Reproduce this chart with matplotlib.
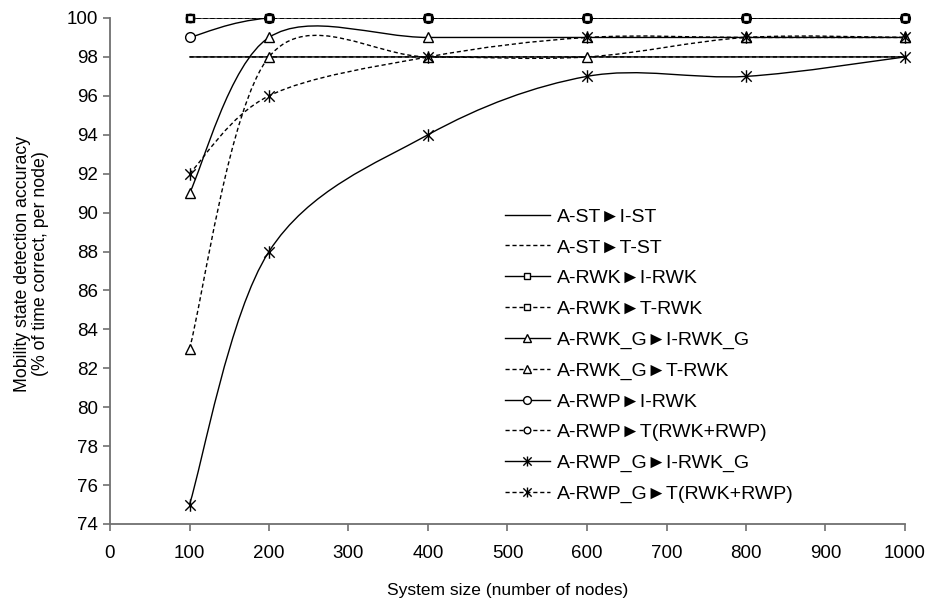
import matplotlib.pyplot as plt
import numpy as np
from matplotlib.path import Path
from matplotlib.patches import PathPatch
from matplotlib.lines import Line2D

plt.rcParams['font.family'] = ['Liberation Sans', 'DejaVu Sans']
plt.rcParams['font.size'] = 12

# data
sizes = [100, 200, 400, 600, 800, 1000]
labels = ["A-ST\u25BAI-ST", "A-ST\u25BAT-ST", "A-RWK\u25BAI-RWK", "A-RWK\u25BAT-RWK",
          "A-RWK_G\u25BAI-RWK_G", "A-RWK_G\u25BAT-RWK", "A-RWP\u25BAI-RWK",
          "A-RWP\u25BAT(RWK+RWP)", "A-RWP_G\u25BAI-RWK_G", "A-RWP_G\u25BAT(RWK+RWP)"]
st_i = [98, 98, 98, 98, 98, 98]
st_t = [98, 98, 98, 98, 98, 98]
rwk_i = [100, 100, 100, 100, 100, 100]
rwk_t = [100, 100, 100, 100, 100, 100]
rwkg_i = [91, 99, 99, 99, 99, 99]
rwkg_t = [83, 98, 98, 98, 99, 99]
rwp_i = [99, 100, 100, 100, 100, 100]
rwp_t = [100, 100, 100, 100, 100, 100]
rwpg_i = [75, 88, 94, 97, 97, 98]
rwpg_t = [92, 96, 98, 99, 99, 99]

# asterisk marker like excel: X plus vertical bar
star = Path([(-0.5, -0.5), (0.5, 0.5), (-0.5, 0.5), (0.5, -0.5), (0, -0.6), (0, 0.6)],
            [Path.MOVETO, Path.LINETO, Path.MOVETO, Path.LINETO, Path.MOVETO, Path.LINETO])

dash = (0, (3, 2))
series = [
    (st_i, '-', None, 7),
    (st_t, dash, None, 7),
    (rwk_i, '-', 's', 6),
    (rwk_t, dash, 's', 5),
    (rwkg_i, '-', '^', 7),
    (rwkg_t, dash, '^', 7),
    (rwp_i, '-', 'o', 7),
    (rwp_t, dash, 'o', 6),
    (rwpg_i, '-', star, 9),
    (rwpg_t, dash, star, 9),
]


def smooth_path(xs, ys, t=1/6):
    # excel style smoothed line as cubic bezier segments
    pts = np.column_stack([xs, ys]).astype(float)
    n = len(pts)
    verts = [pts[0]]
    codes = [Path.MOVETO]
    for i in range(n - 1):
        p_prev = pts[max(i - 1, 0)]
        p_next2 = pts[min(i + 2, n - 1)]
        c1 = pts[i] + (pts[i + 1] - p_prev) * t
        c2 = pts[i + 1] - (p_next2 - pts[i]) * t
        verts += [c1, c2, pts[i + 1]]
        codes += [Path.CURVE4] * 3
    return Path(verts, codes)


fig = plt.figure(figsize=(9.29, 6.05), dpi=100)
ax = fig.add_axes([110/929, 1 - 524/605, (905 - 110)/929, (524 - 18)/605])

handles = []
for (vals, ls, mk, ms), lab in zip(series, labels):
    patch = PathPatch(smooth_path(sizes, vals), fill=False, edgecolor='black',
                      linewidth=1.0, linestyle=ls)
    ax.add_patch(patch)
    if mk is not None:
        ax.plot(sizes, vals, linestyle='none', marker=mk, markersize=ms,
                markerfacecolor='white' if mk is not star else 'none',
                markeredgecolor='black', markeredgewidth=1.0, clip_on=False,
                zorder=3 if mk == 's' else 2.5)
    handles.append(Line2D([], [], color='black', linewidth=1.0, linestyle=ls,
                          marker=mk, markersize=ms * 0.8,
                          markerfacecolor='white' if mk is not star else 'none',
                          markeredgecolor='black'))

ax.set_xlim(0, 1000)
ax.set_ylim(74, 100)
ax.set_xticks(np.arange(0, 1001, 100))
ax.set_yticks(np.arange(74, 101, 2))
for s in ['top', 'right']:
    ax.spines[s].set_visible(False)
for s in ['left', 'bottom']:
    ax.spines[s].set_color('#707070')
    ax.spines[s].set_linewidth(1.3)
ax.tick_params(direction='out', length=5, width=1.2, color='#707070', labelsize=13.5)
ax.tick_params(axis='x', pad=10)

ax.set_xlabel("System size (number of nodes)", fontsize=12.5, labelpad=15)
ax.set_ylabel("Mobility state detection accuracy\n(% of time correct, per node)",
              fontsize=12.8, linespacing=1.05)
ax.yaxis.set_label_coords(-0.077, 0.514)

ax.legend(handles, labels, loc='upper left', bbox_to_anchor=(0.487, 0.64),
          frameon=False, fontsize=14, handlelength=2.3, handletextpad=0.35,
          labelspacing=0.675, borderaxespad=0, numpoints=1)

fig.savefig('out.png', dpi=100)
